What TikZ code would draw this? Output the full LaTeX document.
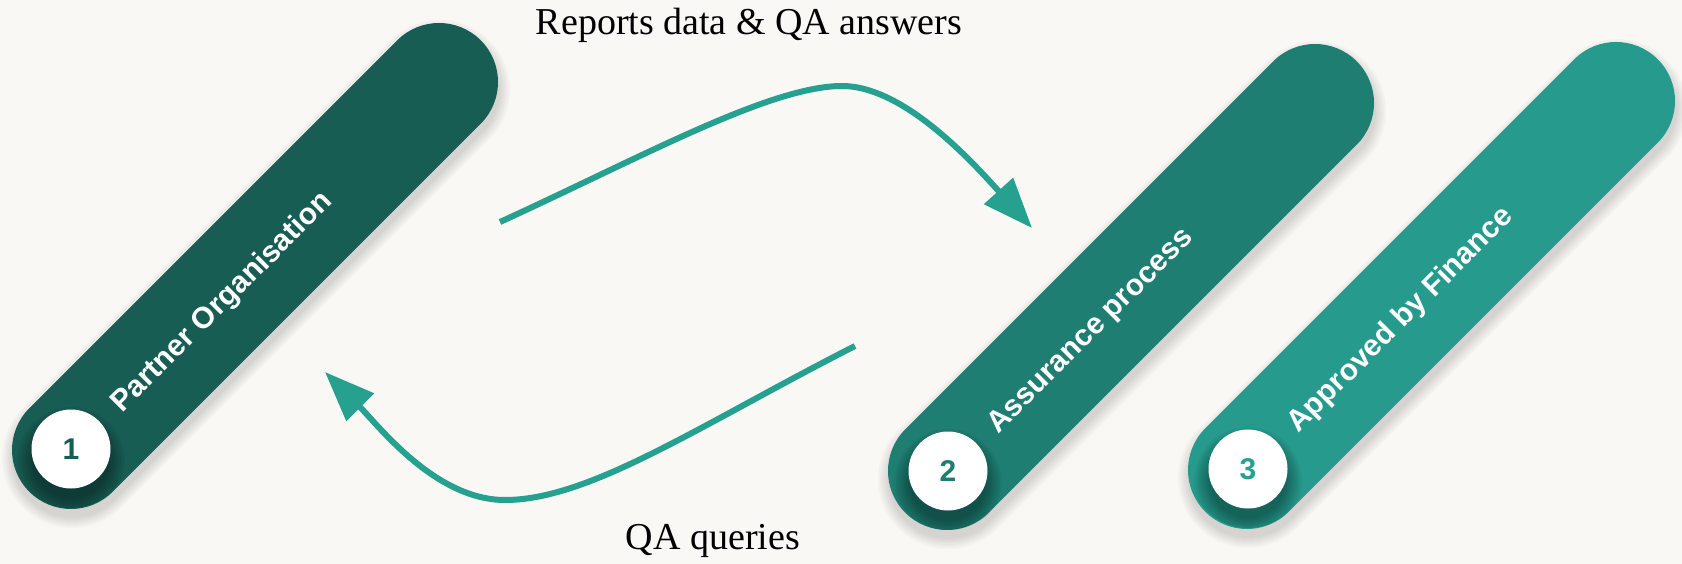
\documentclass[tikz,border=0pt]{standalone}
\usepackage{fontspec}
\setmainfont{Liberation Serif}
\newfontfamily\pillfont{Liberation Sans}
\usetikzlibrary{arrows.meta,calc}
\definecolor{bgc}{HTML}{F9F8F5}
\definecolor{pillA}{HTML}{185D54}
\definecolor{pillB}{HTML}{1F7E72}
\definecolor{pillC}{HTML}{269B8D}
\definecolor{arrowc}{HTML}{26A08F}
\tikzset{
  pillbar/.style={line width=118pt, line cap=round},
  pillshadow/.style={line width=#1, line cap=round, draw=black, draw opacity=0.022},
  numcircle/.style={circle, fill=white, minimum size=79pt, inner sep=0pt,
     font=\pillfont\bfseries\fontsize{30}{34}\selectfont},
  pilltext/.style={rotate=45, anchor=base west, inner sep=0pt, text=white,
     font=\pillfont\bfseries\fontsize{30}{35}\selectfont},
  flowarrow/.style={draw=arrowc, line width=6pt, -{Triangle[length=50pt,width=38pt]}},
  caption/.style={anchor=base, inner sep=0pt, font=\fontsize{38}{46}\selectfont, text=black}
}
\begin{document}
\begin{tikzpicture}[x=1pt,y=-1pt]
\fill[bgc] (0,0) rectangle (1682,564);
\useasboundingbox (0,0) rectangle (1682,564);

% pill end points
\coordinate (B1) at (71,450);   \coordinate (T1) at (439,82);
\coordinate (B2) at (947,471);  \coordinate (T2) at (1315,103);
\coordinate (B3) at (1247,470); \coordinate (T3) at (1616,101);

% pill shadows
\foreach \b/\t in {B1/T1,B2/T2,B3/T3}{
  \foreach \w in {120,124,128,132,136,140}{
    \draw[pillshadow=\w pt] ($(\b)+(1,8)$) -- ($(\t)+(1,8)$);
  }
}
% pills
\draw[pillbar, draw=pillA] (B1) -- (T1);
\draw[pillbar, draw=pillB] (B2) -- (T2);
\draw[pillbar, draw=pillC] (B3) -- (T3);

% circle shadows
\foreach \c in {(71,449),(948,471),(1248,469)}{
  \begin{scope}
    \clip \c ++(0,0) circle (59);
    \foreach \r in {38,40,42,44,46,48,50,52,54}{
      \fill[black, opacity=0.045] \c ++(0,12) circle (\r);
    }
  \end{scope}
}

% number circles
\node[numcircle, text=pillA] (n1) at (71,449) {1};
\node[numcircle, text=pillB] (n2) at (948,471) {2};
\node[numcircle, text=arrowc] (n3) at (1248,469) {3};

% pill labels
\node[pilltext] (l1) at ($(B1)!62pt!(T1)+(7.6,7.6)$) {Partner Organisation};
\node[pilltext] (l2) at ($(B2)!62pt!(T2)+(7.6,7.6)$) {Assurance process};
\node[pilltext] (l3) at ($(B3)!62pt!(T3)+(7.6,7.6)$) {Approved by Finance};

% arrows
\coordinate (a1s) at (500,222);
\coordinate (a1p) at (842,86);
\coordinate (a1e) at (1032,228);
\draw[flowarrow] (a1s) .. controls (640,158) and (770,86) .. (a1p)
   .. controls (905,86) and (975,165) .. (a1e);

\coordinate (a2s) at (855,346);
\coordinate (a2p) at (505,500);
\coordinate (a2e) at (325,372);
\draw[flowarrow] (a2s) .. controls (700,425) and (590,500) .. (a2p)
   .. controls (435,500) and (378,425) .. (a2e);

% captions
\node[caption] (top) at (749,35) {Reports data \& QA answers};
\node[caption] (bot) at (713,549) {QA queries};
\end{tikzpicture}
\end{document}
